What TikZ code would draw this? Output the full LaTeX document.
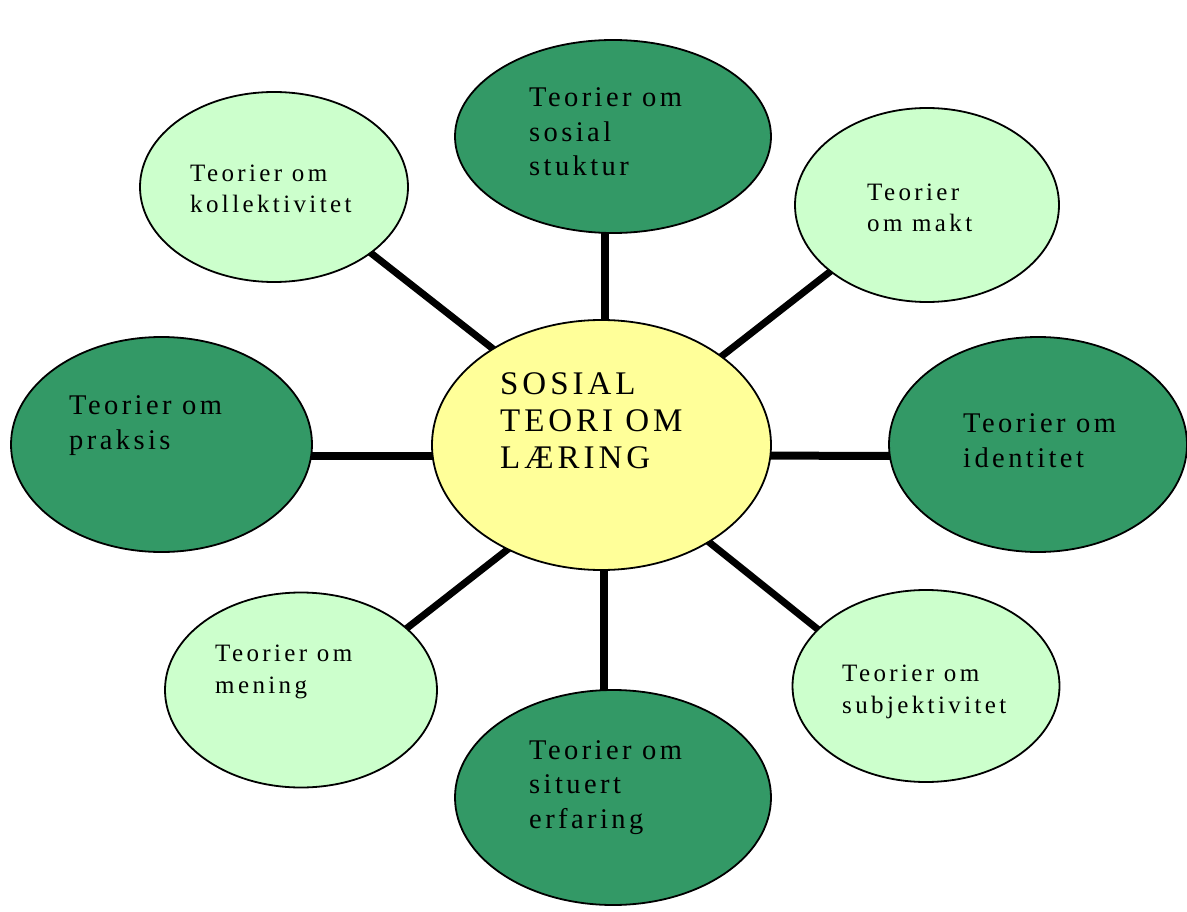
\documentclass[tikz,border=0pt]{standalone}
\usepackage{fontspec}
\setmainfont{Liberation Serif}
\newfontfamily\hubfont[LetterSpace=12]{Liberation Serif}
\newfontfamily\darkfont[LetterSpace=12]{Liberation Serif}
\newfontfamily\palefont[LetterSpace=13.5]{Liberation Serif}
\usetikzlibrary{shapes.geometric,backgrounds}
\definecolor{darkleaf}{HTML}{339966}
\definecolor{paleleaf}{HTML}{CCFFCC}
\definecolor{paleyellow}{HTML}{FFFF99}
\tikzset{
  bubble/.style={ellipse, draw=black, line width=1.8pt, inner sep=0pt},
  hub/.style={bubble, fill=paleyellow},
  darkbubble/.style={bubble, fill=darkleaf},
  palebubble/.style={bubble, fill=paleleaf},
  spoke/.style={line width=8pt},
  diagspoke/.style={line width=7pt},
  % base west is the baseline of the last line of a label
  lbl/.style={anchor=base west, inner sep=0pt, align=left, text=black},
  hubtext/.style={lbl, font=\hubfont\fontsize{33}{37}\selectfont},
  darktext/.style={lbl, font=\darkfont\fontsize{28.5}{34.5}\selectfont},
  paletext/.style={lbl, font=\palefont\fontsize{25}{31.5}\selectfont},
}
\begin{document}
\begin{tikzpicture}[x=1pt, y=-1pt]
\useasboundingbox (0,0) rectangle (1187,912);

% bubbles
\node[hub, minimum width=339pt, minimum height=250pt] (C) at (601.5,445) {};
\node[darkbubble, minimum width=316pt, minimum height=193pt] (T) at (613,136.5) {};
\node[darkbubble, minimum width=316pt, minimum height=215pt] (B) at (613,797.5) {};
\node[darkbubble, minimum width=301pt, minimum height=215pt] (L) at (161.5,444.5) {};
\node[darkbubble, minimum width=298pt, minimum height=215pt] (R) at (1038,444.5) {};
\node[palebubble, minimum width=268pt, minimum height=190pt] (TL) at (274,187) {};
\node[palebubble, minimum width=264pt, minimum height=194pt] (TR) at (927,205) {};
\node[palebubble, minimum width=272pt, minimum height=195pt] (BL) at (301,690) {};
\node[palebubble, minimum width=267pt, minimum height=192pt] (BR) at (926,686) {};

% spokes behind the bubbles
\begin{pgfonlayer}{background}
  \draw[spoke] ([xshift=3.5pt]C.center) -- ([xshift=-8pt]T.center);
  \draw[spoke] ([xshift=2.5pt]C.center) -- ([xshift=-9pt]B.center);
  \draw[spoke] ([yshift=-10.5pt]C.center) -- ([yshift=-11pt]L.center);
  \draw[spoke] ([yshift=-10.5pt]C.center) -- ([yshift=-11.5pt]R.center);
  \draw[diagspoke] ([yshift=11pt]C.center) -- ([yshift=10pt]TL.center);
  \draw[diagspoke] ([yshift=-5pt]C.center) -- ([yshift=9pt]TR.center);
  \draw[diagspoke] ([yshift=-31pt]C.center) -- ([yshift=-21pt]BL.center);
  \draw[diagspoke] ([yshift=-11pt]C.center) -- ([yshift=-30pt]BR.center);
\end{pgfonlayer}

% labels
\node[hubtext] (tC) at (500,468) {SOSIAL\\TEORI OM\\LÆRING};
\node[darktext] (tT) at (529,176) {Teorier om\\sosial\\stuktur};
\node[darktext] (tB) at (529,828) {Teorier om\\situert\\erfaring};
\node[darktext] (tL) at (69,449) {Teorier om\\praksis};
\node[darktext] (tR) at (963,467) {Teorier om\\identitet};
\node[paletext] (tTL) at (190,213) {Teorier om\\kollektivitet};
\node[paletext] (tTR) at (867,232) {Teorier\\om makt};
\node[paletext] (tBL) at (215,693) {Teorier om\\mening};
\node[paletext] (tBR) at (842,713) {Teorier om\\subjektivitet};
\end{tikzpicture}
\end{document}
